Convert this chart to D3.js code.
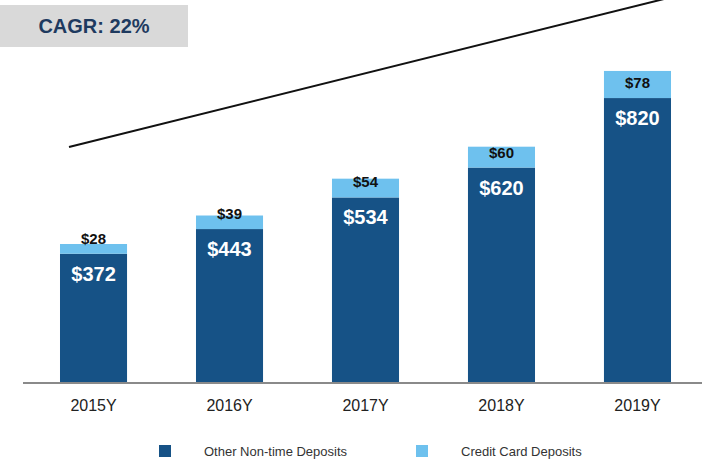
<!DOCTYPE html>
<html>
<head>
<meta charset="utf-8">
<script src="https://cdn.jsdelivr.net/npm/d3@7"></script>
<style>
  body { margin: 0; background: #fff; }
  svg { display: block; font-family: "Liberation Sans", Arial, sans-serif; }
</style>
</head>
<body>
<div id="chart"></div>
<script>
// Data
var years = ["2015Y", "2016Y", "2017Y", "2018Y", "2019Y"];
var otherDeposits = [372, 443, 534, 620, 820];
var cardDeposits = [28, 39, 54, 60, 78];
var seriesNames = ["Other Non-time Deposits", "Credit Card Deposits"];
var seriesColors = ["#165286", "#6ec1ee"];

var W = 702, H = 463;
var baseY = 383;

var svg = d3.select("#chart").append("svg")
    .attr("width", W)
    .attr("height", H);

var x = d3.scaleBand()
    .domain(years)
    .range([-8, 739])
    .paddingInner(0.507)
    .paddingOuter(0.5);

var y = d3.scaleLinear()
    .domain([0, 900])
    .range([baseY, baseY - 900 * 0.3475]);

// CAGR box
svg.append("rect")
    .attr("x", 0).attr("y", 5)
    .attr("width", 188).attr("height", 42)
    .attr("fill", "#d9d9d9");
svg.append("text")
    .attr("x", 94).attr("y", 33)
    .attr("text-anchor", "middle")
    .attr("font-size", 20)
    .attr("font-weight", "bold")
    .attr("fill", "#1e3a5f")
    .text("CAGR: 22%");

// growth arrow line
svg.append("line")
    .attr("x1", 69).attr("y1", 147)
    .attr("x2", 664).attr("y2", -1)
    .attr("stroke", "#111")
    .attr("stroke-width", 2);

var data = years.map(function(d, i) {
    return { year: d, other: otherDeposits[i], card: cardDeposits[i] };
});

var g = svg.selectAll(".bar")
    .data(data)
    .enter().append("g")
    .attr("class", "bar");

g.append("rect")
    .attr("x", function(d) { return x(d.year); })
    .attr("width", x.bandwidth())
    .attr("y", function(d) { return y(d.other); })
    .attr("height", function(d) { return baseY - y(d.other); })
    .attr("fill", seriesColors[0]);

g.append("rect")
    .attr("x", function(d) { return x(d.year); })
    .attr("width", x.bandwidth())
    .attr("y", function(d) { return y(d.other + d.card); })
    .attr("height", function(d) { return y(d.other) - y(d.other + d.card); })
    .attr("fill", seriesColors[1]);

g.append("text")
    .attr("x", function(d) { return x(d.year) + x.bandwidth() / 2; })
    .attr("y", function(d) { return y(d.other) - 10; })
    .attr("text-anchor", "middle")
    .attr("font-size", 15)
    .attr("font-weight", "bold")
    .attr("fill", "#111")
    .text(function(d) { return "$" + d.card; });

g.append("text")
    .attr("x", function(d) { return x(d.year) + x.bandwidth() / 2; })
    .attr("y", function(d) { return y(d.other) + 27; })
    .attr("text-anchor", "middle")
    .attr("font-size", 20)
    .attr("font-weight", "bold")
    .attr("fill", "#fff")
    .text(function(d) { return "$" + d.other; });

// axis
var axis = svg.append("g")
    .attr("transform", "translate(0," + baseY + ")")
    .call(d3.axisBottom(x).tickSize(0).tickPadding(17));
axis.select(".domain").remove();
axis.selectAll("text")
    .attr("font-size", 16)
    .attr("font-family", "Liberation Sans, Arial, sans-serif")
    .attr("fill", "#222");
svg.append("line")
    .attr("x1", 23).attr("x2", W)
    .attr("y1", baseY).attr("y2", baseY)
    .attr("stroke", "#8a8a8a")
    .attr("stroke-width", 2);

// legend
var legX = [159, 416];
var lg = svg.selectAll(".leg")
    .data(seriesNames)
    .enter().append("g")
    .attr("class", "leg")
    .attr("transform", function(d, i) { return "translate(" + legX[i] + ",445)"; });
lg.append("rect")
    .attr("width", 12).attr("height", 12)
    .attr("fill", function(d, i) { return seriesColors[i]; });
lg.append("text")
    .attr("x", 45).attr("y", 11)
    .attr("font-size", 13)
    .attr("fill", "#333")
    .text(function(d) { return d; });
</script>
</body>
</html>
